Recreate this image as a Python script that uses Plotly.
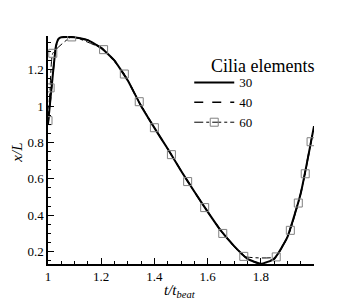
import plotly.graph_objects as go

# Cilia elements = 30 (solid)
t30 = [1.0, 1.01, 1.02, 1.03, 1.04, 1.05, 1.07, 1.1, 1.15, 1.2, 1.25, 1.3, 1.35, 1.4, 1.45,
       1.5, 1.55, 1.6, 1.65, 1.7, 1.75, 1.8, 1.85, 1.9, 1.95, 2.0]
x30 = [0.90, 1.05, 1.20, 1.33, 1.37, 1.378, 1.38, 1.378, 1.362, 1.32, 1.25, 1.14, 1.00, 0.88, 0.765,
       0.645, 0.53, 0.42, 0.315, 0.23, 0.16, 0.133, 0.16, 0.28, 0.52, 0.89]

# Cilia elements = 40 (dashed)
t40 = [1.0, 1.01, 1.02, 1.03, 1.04, 1.05, 1.07, 1.1, 1.15, 1.2, 1.25, 1.3, 1.35, 1.4, 1.45,
       1.5, 1.55, 1.6, 1.65, 1.7, 1.75, 1.8, 1.85, 1.9, 1.95, 2.0]
x40 = [0.90, 1.05, 1.20, 1.33, 1.37, 1.378, 1.38, 1.378, 1.362, 1.32, 1.25, 1.14, 1.00, 0.88, 0.765,
       0.645, 0.53, 0.42, 0.315, 0.23, 0.16, 0.133, 0.16, 0.28, 0.52, 0.89]

# Cilia elements = 60 (dash-dot with square symbols)
t60 = [1.0, 1.008, 1.018, 1.089, 1.209, 1.287, 1.343, 1.4, 1.464, 1.525, 1.589, 1.657,
       1.736, 1.858, 1.911, 1.941, 1.967, 1.989]
x60 = [0.92, 1.10, 1.29, 1.38, 1.31, 1.176, 1.024, 0.881, 0.733, 0.585, 0.442, 0.30,
       0.174, 0.171, 0.317, 0.467, 0.628, 0.804]

x_ticks = [1, 1.2, 1.4, 1.6, 1.8]
x_ticklabels = ["1", "1.2", "1.4", "1.6", "1.8"]
y_ticks = [0.2, 0.4, 0.6, 0.8, 1.0, 1.2]
y_ticklabels = ["0.2", "0.4", "0.6", "0.8", "1", "1.2"]

serif = "Liberation Serif, Times New Roman, serif"

fig = go.Figure()
fig.add_trace(go.Scatter(x=t30, y=x30, mode="lines", name="30",
                         line=dict(color="black", width=2, shape="spline", smoothing=0.4)))
fig.add_trace(go.Scatter(x=t40, y=x40, mode="lines", name="40",
                         line=dict(color="black", width=1.5, dash="dash", shape="spline", smoothing=0.4)))
fig.add_trace(go.Scatter(x=t60, y=x60, mode="lines+markers", name="60",
                         line=dict(color="black", width=1, dash="dashdot", shape="spline", smoothing=0.4),
                         marker=dict(symbol="square-open", size=8, color="#808080",
                                     line=dict(width=1, color="#808080"))))

axis_common = dict(
    showline=True, linecolor="black", linewidth=1.5,
    ticks="inside", ticklen=6, tickwidth=1, tickcolor="black",
    showgrid=False, zeroline=False, mirror=False, automargin=False,
    tickfont=dict(family=serif, size=13, color="black"),
)

fig.update_xaxes(range=[1.0, 2.0], tickvals=x_ticks, ticktext=x_ticklabels,
                 minor=dict(dtick=0.05, ticks="inside", ticklen=3, tickcolor="black", tick0=1),
                 **axis_common)
fig.update_yaxes(range=[0.132, 1.385], tickvals=y_ticks, ticktext=y_ticklabels,
                 minor=dict(dtick=0.05, ticks="inside", ticklen=3, tickcolor="black", tick0=0),
                 **axis_common)

fig.add_annotation(text="<i>t/t<sub>beat</sub></i>", xref="paper", yref="paper",
                   x=0.496, y=-0.12, xanchor="center", yanchor="middle", showarrow=False,
                   font=dict(family=serif, size=15, color="black"))
fig.add_annotation(text="<i>x/L</i>", xref="paper", yref="paper",
                   x=-0.115, y=0.49, xanchor="center", yanchor="middle", showarrow=False,
                   textangle=-90, font=dict(family=serif, size=15, color="black"))
fig.add_annotation(text="Cilia elements", xref="paper", yref="paper",
                   x=0.808, y=0.87, xanchor="center", yanchor="middle", showarrow=False,
                   font=dict(family=serif, size=18, color="black"))

fig.update_layout(
    width=350, height=291,
    margin=dict(l=40, r=44, t=28, b=35),
    paper_bgcolor="white", plot_bgcolor="white",
    font=dict(family=serif, color="black"),
    showlegend=True,
    legend=dict(x=0.531, y=0.862, xanchor="left", yanchor="top",
                bgcolor="rgba(0,0,0,0)", borderwidth=0,
                font=dict(family=serif, size=13, color="black"),
                tracegroupgap=0, itemwidth=40),
)

fig.write_html("out.html")
